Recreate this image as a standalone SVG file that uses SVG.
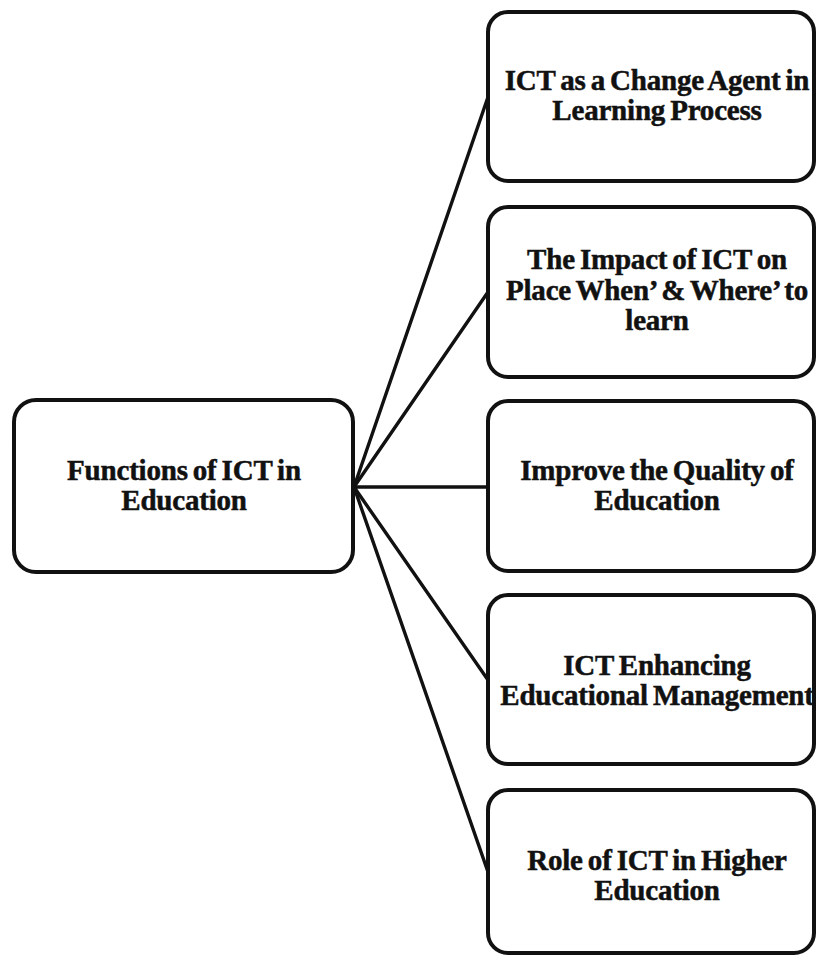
<svg xmlns="http://www.w3.org/2000/svg" width="816" height="957" viewBox="0 0 816 957">
  <style>
    .box { fill: #ffffff; stroke: #111111; stroke-width: 4; }
    .link { stroke: #111111; stroke-width: 3.4; fill: none; stroke-linecap: round; }
    .label { font-family: "Liberation Serif", "Times New Roman", serif; font-weight: bold; font-size: 29px; fill: #111111; stroke: #111111; stroke-width: 0.5; text-anchor: middle; letter-spacing: -0.2px; word-spacing: -2px; }
  </style>
  <rect width="816" height="957" fill="#ffffff"/>

  <!-- connectors from the root box to each branch -->
  <g id="connectors">
    <line class="link" x1="354" y1="487" x2="488" y2="97"/>
    <line class="link" x1="354" y1="487" x2="488" y2="292"/>
    <line class="link" x1="354" y1="487" x2="488" y2="487"/>
    <line class="link" x1="354" y1="487" x2="488" y2="680"/>
    <line class="link" x1="354" y1="487" x2="488" y2="872"/>
  </g>

  <g id="root">
    <rect class="box" x="14" y="400" width="339" height="172" rx="22"/>
    <text class="label" x="184" y="480">Functions of ICT in</text>
    <text class="label" x="184" y="510">Education</text>
  </g>

  <g id="change-agent">
    <rect class="box" x="488" y="12" width="326" height="169" rx="20"/>
    <text class="label" x="657" y="90">ICT as a Change Agent in</text>
    <text class="label" x="657" y="120">Learning Process</text>
  </g>

  <g id="place-when-where">
    <rect class="box" x="488" y="207" width="326" height="170" rx="20"/>
    <text class="label" x="657" y="269">The Impact of ICT on</text>
    <text class="label" x="657" y="300">Place When’ &amp; Where’ to</text>
    <text class="label" x="657" y="330">learn</text>
  </g>

  <g id="quality">
    <rect class="box" x="488" y="401" width="326" height="170" rx="20"/>
    <text class="label" x="657" y="480">Improve the Quality of</text>
    <text class="label" x="657" y="510">Education</text>
  </g>

  <g id="management">
    <rect class="box" x="488" y="595" width="326" height="169" rx="20"/>
    <text class="label" x="657" y="675">ICT Enhancing</text>
    <text class="label" x="657" y="705">Educational Management</text>
  </g>

  <g id="higher-education">
    <rect class="box" x="488" y="790" width="326" height="163" rx="20"/>
    <text class="label" x="657" y="870">Role of ICT in Higher</text>
    <text class="label" x="657" y="900">Education</text>
  </g>
</svg>
